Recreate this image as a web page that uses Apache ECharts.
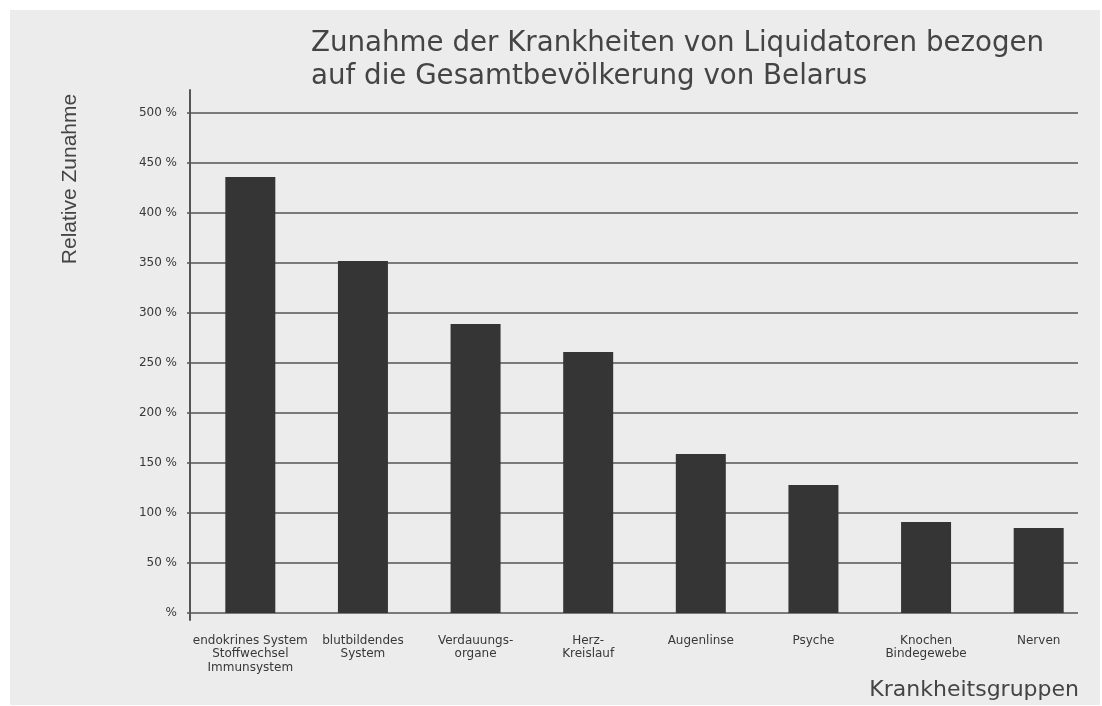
<!DOCTYPE html>
<html>
<head>
<meta charset="utf-8">
<script src="https://cdn.jsdelivr.net/npm/echarts@6/dist/echarts.min.js"></script>
<style>
  html, body { margin: 0; padding: 0; background: #ffffff; }
  #chart { width: 1102px; height: 706px; }
</style>
</head>
<body>
<div id="chart"></div>
<script>
const titleLines = ['Zunahme der Krankheiten von Liquidatoren bezogen', 'auf die Gesamtbevölkerung von Belarus'];
const yAxisName = 'Relative Zunahme';
const xAxisName = 'Krankheitsgruppen';
const categories = [
  'endokrines System\nStoffwechsel\nImmunsystem',
  'blutbildendes\nSystem',
  'Verdauungs-\norgane',
  'Herz-\nKreislauf',
  'Augenlinse',
  'Psyche',
  'Knochen\nBindegewebe',
  'Nerven'
];
const values = [436, 352, 289, 261, 159, 128, 91, 85];
const yMin = 0, yMax = 500, yStep = 50;

const textColor = '#383838';
const lineColor = '#555555';

const chart = echarts.init(document.getElementById('chart'), null, { renderer: 'canvas' });
chart.setOption({
  animation: false,
  backgroundColor: '#ffffff',
  graphic: [
    { type: 'rect', z: -10, silent: true, shape: { x: 10, y: 10, width: 1090, height: 695 }, style: { fill: '#ececec' } },
    { type: 'text', x: 70.5, y: 179, rotation: Math.PI / 2, silent: true,
      style: { text: yAxisName, fontFamily: 'Liberation Sans', fontSize: 21, fill: '#444', textAlign: 'center', textVerticalAlign: 'middle' } },
    { type: 'text', x: 1079, y: 690, silent: true,
      style: { text: xAxisName, fontFamily: 'DejaVu Sans', fontSize: 22, fill: '#444', textAlign: 'right', textVerticalAlign: 'middle' } }
  ],
  title: {
    text: titleLines.join('\n'),
    left: 311, top: 27, padding: 0,
    textStyle: { fontFamily: 'DejaVu Sans', fontSize: 27.7, fontWeight: 'normal', color: '#444', lineHeight: 33 }
  },
  grid: [
    { left: 190, right: 24, top: 113, bottom: 93 },
    { left: 194, right: 7, top: 113, bottom: 93 },
    { left: 190, right: 24, top: 90, bottom: 86 }
  ],
  xAxis: [
    { gridIndex: 0, type: 'category', data: categories, show: false },
    { gridIndex: 1, type: 'category', data: categories,
      axisLine: { show: false }, axisTick: { show: false },
      axisLabel: { interval: 0, margin: 21, fontFamily: 'DejaVu Sans', fontSize: 12, lineHeight: 13.5, color: textColor } },
    { gridIndex: 2, type: 'value', min: 0, max: 1, show: false }
  ],
  yAxis: [
    { gridIndex: 0, type: 'value', min: yMin, max: yMax, interval: yStep,
      axisLine: { show: false, onZero: false },
      axisTick: { show: true, length: 3, lineStyle: { color: lineColor, width: 1.5 } },
      axisLabel: { margin: 13, fontFamily: 'DejaVu Sans', fontSize: 12, color: textColor,
        formatter: v => (v === 0 ? '%' : v + ' %') },
      splitLine: { show: true, lineStyle: { color: lineColor, width: 1.6 } } },
    { gridIndex: 1, type: 'value', min: yMin, max: yMax, interval: yStep, show: false, splitLine: { show: false } },
    { gridIndex: 2, type: 'value', min: 0, max: 1,
      axisLine: { show: true, onZero: false, lineStyle: { color: lineColor, width: 2 } },
      axisTick: { show: false }, axisLabel: { show: false }, splitLine: { show: false } }
  ],
  series: [{
    type: 'bar', xAxisIndex: 1, yAxisIndex: 1, data: values, barWidth: 50,
    itemStyle: { color: '#353535' }
  }]
});
</script>
</body>
</html>
